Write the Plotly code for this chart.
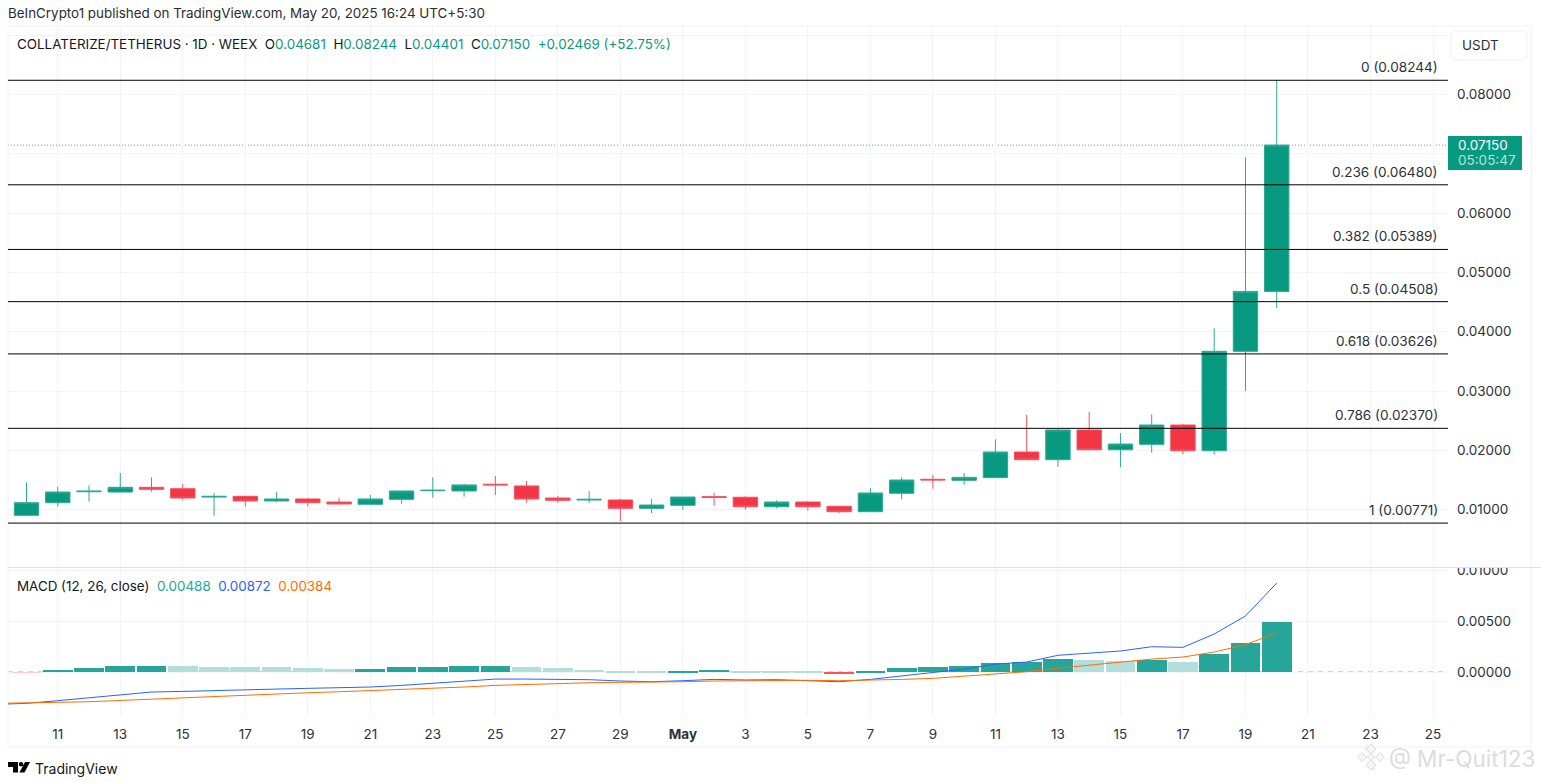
import plotly.graph_objects as go

W, H = 1541, 783

# daily candles
dates = ["2025-04-10", "2025-04-11", "2025-04-12", "2025-04-13", "2025-04-14", "2025-04-15", "2025-04-16",
         "2025-04-17", "2025-04-18", "2025-04-19", "2025-04-20", "2025-04-21", "2025-04-22", "2025-04-23",
         "2025-04-24", "2025-04-25", "2025-04-26", "2025-04-27", "2025-04-28", "2025-04-29", "2025-04-30",
         "2025-05-01", "2025-05-02", "2025-05-03", "2025-05-04", "2025-05-05", "2025-05-06", "2025-05-07",
         "2025-05-08", "2025-05-09", "2025-05-10", "2025-05-11", "2025-05-12", "2025-05-13", "2025-05-14",
         "2025-05-15", "2025-05-16", "2025-05-17", "2025-05-18", "2025-05-19", "2025-05-20"]
opens = [.00902, .01115, .01300, .01295, .01375, .01351, .01210, .01223, .01144, .01178, .01127, .01088, .01172,
         .01318, .01313, .01427, .01398, .01194, .01160, .01161, .01020, .01071, .01217, .01207, .01047, .01127,
         .01054, .00963, .01274, .01510, .01493, .01538, .01970, .01841, .02342, .02009, .02100, .02426, .01992,
         .03670, .04681]
highs = [.01459, .01380, .01408, .01616, .01543, .01431, .01279, .01225, .01295, .01194, .01199, .01245, .01313,
         .01543, .01437, .01566, .01483, .01229, .01308, .01178, .01178, .01211, .01284, .01224, .01155, .01144,
         .01059, .01363, .01543, .01583, .01616, .02185, .02595, .02358, .02646, .02291, .02607, .02443, .04058,
         .06944, .08244]
lows = [.00900, .01047, .01132, .01290, .01301, .01155, .00895, .01047, .01127, .01047, .01085, .01085, .01098,
        .01199, .01217, .01245, .01115, .01115, .01115, .00806, .00941, .00997, .01064, .00997, .01025, .00980,
        .00941, .00958, .01172, .01351, .01415, .01530, .01835, .01722, .02000, .01713, .01959, .01932, .01925,
        .03000, .04401]
closes = [.01115, .01295, .01310, .01375, .01341, .01194, .01222, .01144, .01178, .01115, .01093, .01178, .01313,
          .01325, .01415, .01415, .01178, .01155, .01172, .01020, .01076, .01211, .01205, .01047, .01127, .01047,
          .00963, .01279, .01498, .01499, .01543, .01970, .01841, .02342, .02009, .02105, .02426, .01992, .03670,
          .04681, .07150]

# fib retracement levels
fib_levels = [0, 0.236, 0.382, 0.5, 0.618, 0.786, 1]
fib_prices = [0.08244, 0.06480, 0.05389, 0.04508, 0.03626, 0.02370, 0.00771]

# MACD pane
hist = [-.00006, .00020, .00039, .00055, .00059, .00055, .00049, .00046, .00045, .00039, .00032, .00034, .00046,
        .00049, .00055, .00062, .00046, .00036, .00020, .00007, .00005, .00010, .00020, .00006, .00005, .00003,
        -.00012, .00010, .00036, .00049, .00059, .00085, .00095, .00127, .00117, .00104, .00121, .00095, .00177,
        .00281, .00488]
macd_dates = ["2025-04-09"] + dates
macd_line = [-.00317, -.00307, -.00281, -.00252, -.00222, -.00196, -.00190, -.00180, -.00173, -.00167, -.00160,
             -.00157, -.00147, -.00131, -.00111, -.00088, -.00069, -.00069, -.00072, -.00075, -.00088, -.00095,
             -.00085, -.00072, -.00078, -.00075, -.00085, -.00095, -.00072, -.00036, -.00003, .00029, .00078,
             .00098, .00164, .00183, .00206, .00248, .00242, .00373, .00549, .00872]
signal_line = [-.00307, -.00305, -.00297, -.00291, -.00278, -.00265, -.00248, -.00235, -.00222, -.00213, -.00203,
               -.00193, -.00183, -.00173, -.00160, -.00147, -.00131, -.00121, -.00111, -.00105, -.00101, -.00101,
               -.00095, -.00088, -.00085, -.00081, -.00081, -.00085, -.00081, -.00072, -.00062, -.00042, -.00020,
               .00003, .00037, .00066, .00102, .00127, .00147, .00196, .00268, .00384]

# axes
x_ticks = ["2025-04-11", "2025-04-13", "2025-04-15", "2025-04-17", "2025-04-19", "2025-04-21", "2025-04-23",
           "2025-04-25", "2025-04-27", "2025-04-29", "2025-05-01", "2025-05-03", "2025-05-05", "2025-05-07",
           "2025-05-09", "2025-05-11", "2025-05-13", "2025-05-15", "2025-05-17", "2025-05-19", "2025-05-21",
           "2025-05-23", "2025-05-25"]
x_labels = ["11", "13", "15", "17", "19", "21", "23", "25", "27", "29", "<b>May</b>", "3", "5", "7", "9",
            "11", "13", "15", "17", "19", "21", "23", "25"]
price_ticks = [0.01, 0.02, 0.03, 0.04, 0.05, 0.06, 0.07, 0.08, 0.09]
price_labels = ["0.01000", "0.02000", "0.03000", "0.04000", "0.05000", "0.06000", "", "0.08000", ""]
macd_ticks = [0, 0.005, 0.01]
macd_labels = ["0.00000", "0.00500", "0.01000"]

GREEN = "#089981"
RED = "#f23645"
GRID = "#f2f3f6"
TEXT = "#2e3138"
FONT = "Inter"
TXT_SIZE = 13.4


def px(x):
    return x / W


def py(y):
    return 1 - y / H


def path(points):
    return "M" + " L".join(f"{px(a):.5f},{py(b):.5f}" for a, b in points) + " Z"


fig = go.Figure()

# wicks and body edges are a bit softer than the fill in the screenshot
fig.add_trace(go.Candlestick(
    x=dates, open=opens, high=highs, low=lows, close=closes,
    increasing=dict(line=dict(color="#2fa893", width=1), fillcolor=GREEN),
    decreasing=dict(line=dict(color="#f4505e", width=1), fillcolor=RED),
    whiskerwidth=0, showlegend=False, xaxis="x", yaxis="y",
))

hist_colors = []
for i, v in enumerate(hist):
    prev = hist[i - 1] if i else v
    if v >= 0:
        hist_colors.append("#26a69a" if v >= prev else "#b2dfdb")
    else:
        hist_colors.append("#ff5252" if v <= prev and i else "#ffcdd2")

fig.add_trace(go.Bar(
    x=dates, y=hist, marker=dict(color=hist_colors, line=dict(width=0)),
    width=0.95 * 86400000, showlegend=False, xaxis="x2", yaxis="y2",
))
fig.add_trace(go.Scatter(
    x=macd_dates, y=macd_line, mode="lines", line=dict(color="#2962ff", width=1),
    showlegend=False, xaxis="x2", yaxis="y2",
))
fig.add_trace(go.Scatter(
    x=macd_dates, y=signal_line, mode="lines", line=dict(color="#ff6d00", width=1),
    showlegend=False, xaxis="x2", yaxis="y2",
))

shapes = []
annotations = []

# fib lines and their labels
for lvl, val in zip(fib_levels, fib_prices):
    shapes.append(dict(type="line", xref="x domain", yref="y", x0=0, x1=1, y0=val, y1=val,
                       line=dict(color="#000000", width=1), layer="above"))
    annotations.append(dict(text=f"{lvl} ({val:.5f})", xref="paper", yref="y", x=px(1440), y=val, yshift=13,
                            xanchor="right", yanchor="middle", showarrow=False,
                            font=dict(family=FONT, size=13.6, color=TEXT)))

# last price
shapes.append(dict(type="line", xref="x domain", yref="y", x0=0, x1=1, y0=closes[-1], y1=closes[-1],
                   line=dict(color="rgba(8,153,129,0.75)", width=1, dash="1px,2px"), layer="below"))
shapes.append(dict(type="rect", xref="paper", yref="paper", x0=px(1448), x1=px(1522), y0=py(170), y1=py(136),
                   fillcolor=GREEN, line=dict(width=0), layer="above"))
annotations.append(dict(text="0.07150", xref="paper", yref="paper", x=px(1456), y=py(145), xanchor="left",
                        yanchor="middle", showarrow=False, font=dict(family=FONT, size=13.5, color="#ffffff")))
annotations.append(dict(text="05:05:47", xref="paper", yref="paper", x=px(1456), y=py(160), xanchor="left",
                        yanchor="middle", showarrow=False, font=dict(family=FONT, size=13.5, color="#b5e3d8")))

# zero line of the MACD pane
shapes.append(dict(type="line", xref="x2 domain", yref="y2", x0=0, x1=1, y0=0, y1=0,
                   line=dict(color="#c4c6cc", width=1.5, dash="5px,5px"), layer="below"))

# hides the upper part of the clipped 0.01000 label, then the pane divider
shapes.append(dict(type="rect", xref="paper", yref="paper", x0=px(1449), x1=px(1530), y0=py(567.5), y1=py(555),
                   fillcolor="#ffffff", line=dict(width=0), layer="above"))
shapes.append(dict(type="line", xref="paper", yref="paper", x0=px(8), x1=1, y0=py(567.5), y1=py(567.5),
                   line=dict(color="#e0e3eb", width=1), layer="above"))

# chart frame
shapes.append(dict(type="rect", xref="paper", yref="paper", x0=px(8), x1=px(1531.5), y0=py(747), y1=py(26),
                   line=dict(color="#f0f1f4", width=1), layer="below"))

# USDT button
shapes.append(dict(type="path", xref="paper", yref="paper", layer="above",
                   path=path([(1454, 31), (1524, 31), (1527, 34), (1527, 57), (1524, 60), (1454, 60), (1451, 57), (1451, 34)]),
                   fillcolor="#ffffff", line=dict(color="#f0f1f4", width=1)))
annotations.append(dict(text="USDT", xref="paper", yref="paper", x=px(1460), y=py(45), xanchor="left",
                        yanchor="middle", showarrow=False, font=dict(family=FONT, size=13.5, color=TEXT)))

# header texts
annotations.append(dict(text="BeInCrypto1 published on TradingView.com, May 20, 2025 16:24 UTC+5:30",
                        xref="paper", yref="paper", x=px(5.5), y=py(13), xanchor="left", yanchor="middle",
                        showarrow=False, font=dict(family=FONT, size=TXT_SIZE, color="#2b2b2b")))


def c(txt):
    return f"<span style='color:{GREEN}'>{txt}</span>"


annotations.append(dict(
    text="COLLATERIZE/TETHERUS · 1D · WEEX  O" + c("0.04681") + "  H" + c("0.08244") + "  L" + c("0.04401")
         + "  C" + c("0.07150") + "  " + c("+0.02469 (+52.75%)"),
    xref="paper", yref="paper", x=px(15), y=py(44), xanchor="left", yanchor="middle", showarrow=False,
    font=dict(family=FONT, size=TXT_SIZE, color="#131722")))
annotations.append(dict(
    text="MACD (12, 26, close)  <span style='color:#26a69a'>0.00488</span>  <span style='color:#2962ff'>0.00872</span>"
         "  <span style='color:#ff6d00'>0.00384</span>",
    xref="paper", yref="paper", x=px(15), y=py(585.5), xanchor="left", yanchor="middle", showarrow=False,
    font=dict(family=FONT, size=TXT_SIZE, color="#131722")))

# TradingView logo, roughly
shapes.append(dict(type="path", xref="paper", yref="paper", layer="above", fillcolor="#000000", line=dict(width=0),
                   path=path([(8, 762), (18, 762), (18, 772.5), (13, 772.5), (13, 767), (8, 767)])))
shapes.append(dict(type="path", xref="paper", yref="paper", layer="above", fillcolor="#000000", line=dict(width=0),
                   path=path([(25, 762), (30, 762), (24.5, 772.5), (19.5, 772.5)])))
shapes.append(dict(type="circle", xref="paper", yref="paper", layer="above", fillcolor="#000000", line=dict(width=0),
                   x0=px(18.8), x1=px(23.4), y0=py(766.6), y1=py(762)))
annotations.append(dict(text="TradingView", xref="paper", yref="paper", x=px(32.5), y=py(768), xanchor="left",
                        yanchor="middle", showarrow=False, font=dict(family=FONT, size=14, color="#131722")))

# watermark
for cx, cy, r in [(1371, 749, 5), (1371, 765, 5), (1362, 757, 4.5), (1380, 757, 4.5), (1371, 757, 3.5)]:
    shapes.append(dict(type="path", xref="paper", yref="paper", layer="above", fillcolor="#f6f6f6",
                       line=dict(color="#dadada", width=1),
                       path=path([(cx, cy - r), (cx + r, cy), (cx, cy + r), (cx - r, cy)])))
annotations.append(dict(text="@ Mr-Quit123", xref="paper", yref="paper", x=px(1387), y=py(758), xanchor="left",
                        yanchor="middle", showarrow=False, font=dict(family=FONT, size=22.5, color="#dcdcdc")))

x_range = ["2025-04-09 09:47", "2025-05-25 11:31"]
grid_kw = dict(showgrid=True, gridcolor=GRID, gridwidth=1, zeroline=False, showline=False, ticks="", automargin=False)

fig.update_layout(
    width=W, height=H, margin=dict(l=0, r=0, t=0, b=0),
    paper_bgcolor="#ffffff", plot_bgcolor="#ffffff",
    boxgap=0.22, boxgroupgap=0, bargap=0, showlegend=False,
    font=dict(family=FONT, size=13.5, color=TEXT),
    xaxis=dict(domain=[px(8), px(1448)], range=x_range, type="date", rangeslider=dict(visible=False),
               tickmode="array", tickvals=x_ticks, ticktext=[""] * len(x_ticks), anchor="y", **grid_kw),
    yaxis=dict(domain=[py(567), py(26)], range=[0.00030, 0.0916], side="right", tickmode="array",
               tickvals=price_ticks, ticktext=price_labels, anchor="x", ticklabelstandoff=8, **grid_kw),
    xaxis2=dict(domain=[px(8), px(1448)], range=x_range, type="date", matches="x", tickmode="array",
                tickvals=x_ticks, ticktext=x_labels, anchor="y2", ticklabelstandoff=8, **grid_kw),
    yaxis2=dict(domain=[py(716), py(569)], range=[-0.00431, 0.0101], side="right", tickmode="array",
                tickvals=macd_ticks, ticktext=macd_labels, anchor="x2", ticklabelstandoff=8, **grid_kw),
    shapes=shapes, annotations=annotations,
)

fig.write_html("out.html", config=dict(displayModeBar=False), post_script="document.body.style.margin='0';")
